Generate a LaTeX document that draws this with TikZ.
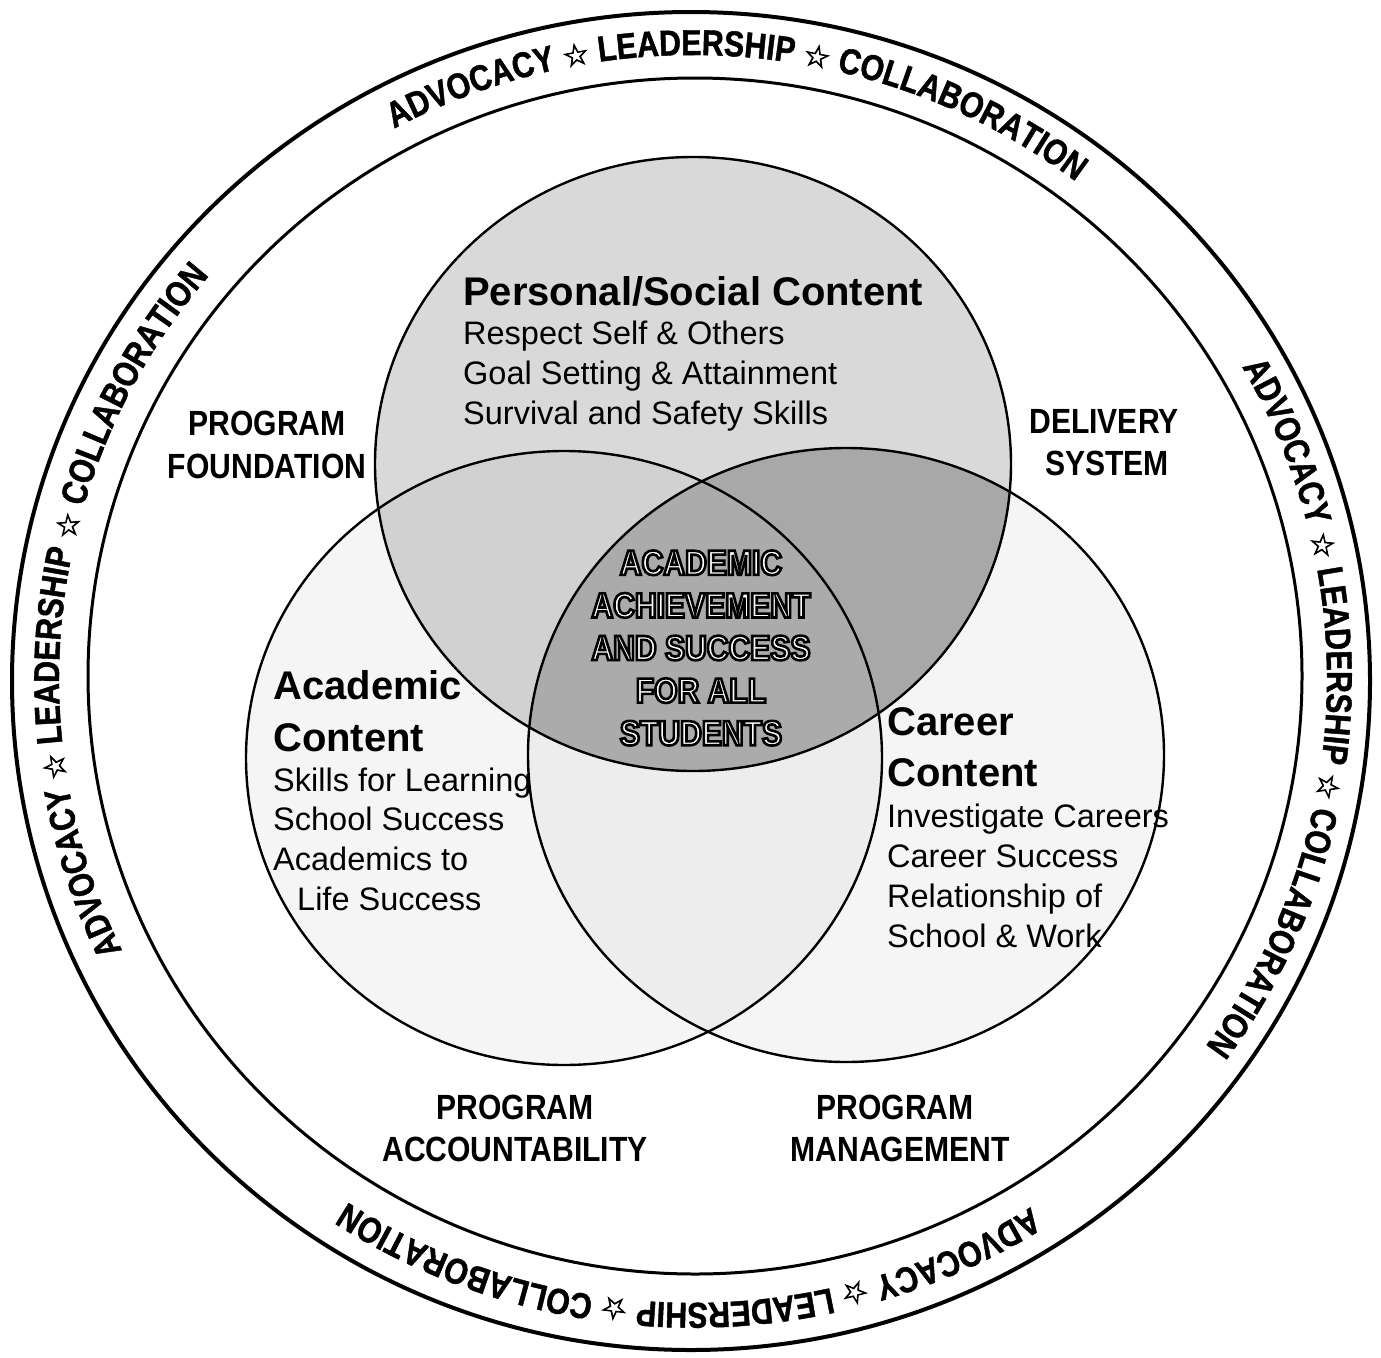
\documentclass[tikz,border=0pt]{standalone}
\usepackage{fontspec}
\setmainfont{Liberation Sans}
\newfontfamily\narrowsf[FakeStretch=0.86]{Liberation Sans}
\newfontfamily\ringsf[FakeStretch=0.84,FakeBold=1.2]{Liberation Sans Bold}
\newfontfamily\symsf[FakeBold=2.5]{DejaVu Sans}
\usetikzlibrary{decorations.text}

\newcommand\ringfont{\ringsf\fontsize{36}{36}\selectfont}
\newcommand\starfont{\symsf\fontsize{30}{30}\selectfont}
% white letters with a black rim
\newcommand\hollow[1]{\special{pdf:literal direct q 2 Tr 2.6 w 0 G}#1\special{pdf:literal direct Q}}

\tikzset{
  disc/.style={x radius=318, y radius=307},
  venn/.style={line width=2.4pt},
  head/.style={anchor=base west, inner sep=0pt, font=\bfseries\fontsize{40}{40}\selectfont},
  item/.style={anchor=base west, inner sep=0pt, font=\fontsize{32.5}{32.5}\selectfont},
  area/.style={anchor=base, inner sep=0pt, font=\narrowsf\bfseries\fontsize{35}{35}\selectfont},
  hub/.style={align=center, inner sep=0pt, text=white, font=\narrowsf\bfseries\fontsize{35}{42.6}\selectfont},
}

\begin{document}
\begin{tikzpicture}[x=1pt,y=-1pt]
\useasboundingbox (0,0) rectangle (1381,1357);
\fill[white] (0,0) rectangle (1381,1357);

% centres of the three content circles
\coordinate (ps) at (693,464);
\coordinate (ac) at (564,758);
\coordinate (cc) at (846,755);

% shading of the circles and their overlaps
\fill[black!4] (ac) circle[disc];
\fill[black!4] (cc) circle[disc];
\begin{scope}
  \clip (ac) circle[disc];
  \fill[black!7] (cc) circle[disc];
\end{scope}
\fill[black!15] (ps) circle[disc];
\begin{scope}
  \clip (ps) circle[disc];
  \fill[black!18] (ac) circle[disc];
  \fill[black!34] (cc) circle[disc];
\end{scope}
\begin{scope}
  \clip (ps) circle[disc];
  \clip (ac) circle[disc];
  \fill[black!33] (cc) circle[disc];
\end{scope}
\draw[venn] (ps) circle[disc];
\draw[venn] (ac) circle[disc];
\draw[venn] (cc) circle[disc];

% outer band
\coordinate (rim) at (691,681);
\coordinate (band) at (695,676);
\coordinate (rc) at (693,679);
\draw[line width=4pt] (rim) circle[x radius=679, y radius=669];
\draw[line width=3pt] (band) circle[x radius=607, y radius=598];

\foreach \c in {85.5,-3,-90.4,172.8} {
  \pgfmathsetmacro\s{-\c-42}
  \pgfmathsetmacro\e{-\c+42}
  \path[decorate, decoration={text along path, text align=center,
      text={|\ringfont|ADVOCACY |\starfont|☆|\ringfont| LEADERSHIP |\starfont|☆|\ringfont| COLLABORATION}}]
    ([shift={(\s:634 and 624)}]rc) arc[start angle=\s, end angle=\e, x radius=634, y radius=624];
}

% the four program components
\node[area] (pf1) at (267,435) {PROGRAM};
\node[area] (pf2) at (267,478) {FOUNDATION};
\node[area] (ds1) at (1104,433) {DELIVERY};
\node[area] (ds2) at (1107,475) {SYSTEM};
\node[area] (pa1) at (515,1119) {PROGRAM};
\node[area] (pa2) at (515,1161) {ACCOUNTABILITY};
\node[area] (pm1) at (895,1119) {PROGRAM};
\node[area] (pm2) at (900,1161) {MANAGEMENT};

% personal/social
\node[head] (psh) at (463,305) {Personal/Social Content};
\node[item] (ps1) at (463,344) {Respect Self \& Others};
\node[item] (ps2) at (463,384) {Goal Setting \& Attainment};
\node[item] (ps3) at (463,424) {Survival and Safety Skills};

% academic
\node[head] (ach1) at (273,699) {Academic};
\node[head] (ach2) at (273,751) {Content};
\node[item] (ac1) at (273,791) {Skills for Learning};
\node[item] (ac2) at (273,830) {School Success};
\node[item] (ac3) at (273,870) {Academics to};
\node[item] (ac4) at (297,910) {Life Success};

% career
\node[head] (cch1) at (887,735) {Career};
\node[head] (cch2) at (887,786) {Content};
\node[item] (cc1) at (887,827) {Investigate Careers};
\node[item] (cc2) at (887,867) {Career Success};
\node[item] (cc3) at (887,907) {Relationship of};
\node[item] (cc4) at (887,947) {School \& Work};

% goal in the middle
\node[hub] (hub) at (701,648) {\hollow{ACADEMIC\\ACHIEVEMENT\\AND SUCCESS\\FOR ALL\\STUDENTS}};
\end{tikzpicture}
\end{document}
